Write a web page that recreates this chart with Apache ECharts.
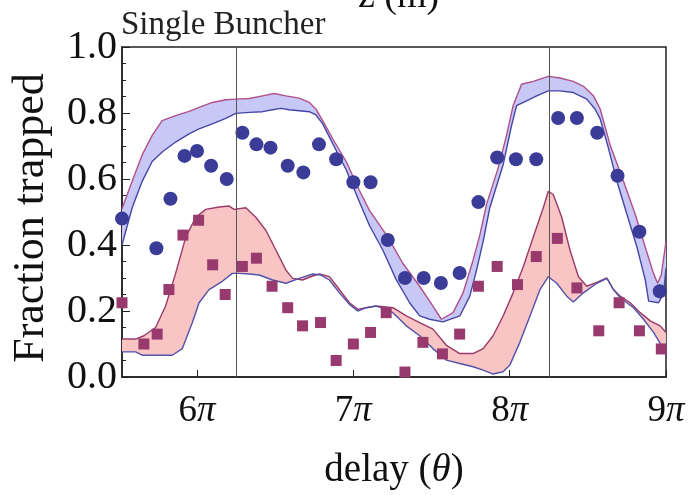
<!DOCTYPE html>
<html><head><meta charset="utf-8">
<script src="https://cdn.jsdelivr.net/npm/echarts@6/dist/echarts.min.js"></script>
<style>html,body{margin:0;padding:0;background:#fff}#c{width:690px;height:495px}</style>
</head><body><div id="c"></div>
<script>
// x in units of pi
const xTicks = [6, 7, 8, 9];
const refLines = [6.25, 8.25];

// measured points: Fraction trapped (circles)
const circles = [
  [5.52,0.48],[5.74,0.39],[5.83,0.54],[5.92,0.67],[6.00,0.685],[6.09,0.64],[6.19,0.60],
  [6.29,0.74],[6.38,0.705],[6.47,0.695],[6.58,0.64],[6.68,0.62],[6.78,0.705],[6.89,0.66],
  [7.00,0.59],[7.11,0.59],[7.22,0.415],[7.33,0.30],[7.45,0.30],[7.56,0.285],[7.68,0.315],
  [7.80,0.53],[7.92,0.665],[8.04,0.66],[8.17,0.66],[8.31,0.785],[8.43,0.785],[8.56,0.74],
  [8.69,0.61],[8.83,0.44],[8.96,0.26]
];
// measured points (squares)
const squares = [
  [5.52,0.225],[5.66,0.10],[5.745,0.13],[5.82,0.265],[5.91,0.43],[6.01,0.475],[6.10,0.34],
  [6.18,0.25],[6.29,0.335],[6.38,0.36],[6.48,0.275],[6.58,0.21],[6.675,0.155],[6.79,0.165],
  [6.89,0.05],[7.00,0.10],[7.11,0.135],[7.21,0.195],[7.33,0.015],[7.445,0.105],[7.57,0.07],
  [7.68,0.13],[7.80,0.275],[7.92,0.335],[8.05,0.28],[8.17,0.365],[8.305,0.42],[8.43,0.27],
  [8.57,0.14],[8.70,0.225],[8.83,0.14],[8.97,0.085]
];

// simulation band 1 (blue)
const blueUpper = [
  [5.52,0.51],[5.585,0.593],[5.649,0.673],[5.713,0.732],[5.777,0.777],[5.863,0.792],[5.949,0.805],
  [6.013,0.817],[6.098,0.832],[6.184,0.84],[6.248,0.842],[6.334,0.844],[6.419,0.852],[6.494,0.859],
  [6.569,0.852],[6.654,0.845],[6.718,0.832],[6.761,0.812],[6.804,0.777],[6.868,0.722],[6.954,0.653],
  [7.039,0.565],[7.103,0.505],[7.221,0.424],[7.317,0.344],[7.424,0.275],[7.509,0.215],[7.563,0.175],
  [7.638,0.195],[7.702,0.255],[7.766,0.354],[7.809,0.43],[7.852,0.523],[7.926,0.633],[7.98,0.732],
  [8.022,0.822],[8.076,0.887],[8.151,0.896],[8.247,0.911],[8.322,0.906],[8.407,0.896],[8.472,0.881],
  [8.536,0.852],[8.579,0.812],[8.643,0.702],[8.728,0.593],[8.803,0.493],[8.867,0.394],[8.92,0.314],
  [8.946,0.284],[8.97,0.31],[9.0,0.41]
];
const blueLower = [
  [5.52,0.40],[5.585,0.513],[5.649,0.593],[5.713,0.653],[5.777,0.682],[5.863,0.712],[5.949,0.737],
  [6.013,0.752],[6.098,0.767],[6.184,0.784],[6.248,0.799],[6.334,0.802],[6.419,0.804],[6.483,0.81],
  [6.537,0.814],[6.59,0.81],[6.654,0.807],[6.718,0.804],[6.761,0.794],[6.804,0.767],[6.868,0.707],
  [6.954,0.628],[7.039,0.53],[7.103,0.459],[7.189,0.384],[7.274,0.295],[7.36,0.225],[7.424,0.185],
  [7.488,0.175],[7.573,0.167],[7.681,0.185],[7.745,0.245],[7.788,0.324],[7.83,0.41],[7.873,0.513],
  [7.958,0.643],[8.012,0.762],[8.044,0.822],[8.108,0.837],[8.173,0.852],[8.247,0.867],[8.322,0.867],
  [8.407,0.862],[8.493,0.842],[8.546,0.812],[8.579,0.782],[8.632,0.693],[8.686,0.593],[8.75,0.493],
  [8.814,0.394],[8.867,0.295],[8.889,0.23],[8.953,0.225],[8.985,0.255],[9.0,0.33]
];
// simulation band 2 (pink)
const pinkUpper = [
  [5.52,0.115],[5.607,0.115],[5.66,0.125],[5.735,0.15],[5.799,0.215],[5.863,0.314],[5.928,0.424],
  [5.992,0.484],[6.056,0.508],[6.141,0.515],[6.205,0.518],[6.237,0.508],[6.312,0.513],[6.376,0.484],
  [6.441,0.444],[6.505,0.384],[6.569,0.324],[6.611,0.299],[6.675,0.294],[6.74,0.306],[6.783,0.312],
  [6.847,0.304],[6.911,0.265],[6.975,0.225],[7.028,0.205],[7.082,0.21],[7.146,0.215],[7.21,0.212],
  [7.253,0.21],[7.339,0.185],[7.424,0.165],[7.509,0.145],[7.595,0.096],[7.681,0.071],[7.766,0.071],
  [7.83,0.086],[7.894,0.125],[7.958,0.185],[8.022,0.255],[8.087,0.334],[8.151,0.424],[8.215,0.513],
  [8.247,0.563],[8.279,0.553],[8.333,0.484],[8.386,0.384],[8.44,0.304],[8.493,0.275],[8.557,0.287],
  [8.622,0.30],[8.664,0.265],[8.707,0.245],[8.771,0.225],[8.835,0.195],[8.899,0.17],[8.963,0.155],
  [9.0,0.135]
];
const pinkLower = [
  [5.52,0.076],[5.607,0.076],[5.649,0.066],[5.735,0.066],[5.842,0.066],[5.906,0.086],[5.97,0.165],
  [6.013,0.225],[6.077,0.265],[6.162,0.29],[6.226,0.314],[6.269,0.314],[6.334,0.312],[6.398,0.309],
  [6.483,0.294],[6.569,0.284],[6.654,0.299],[6.74,0.312],[6.793,0.309],[6.847,0.294],[6.911,0.255],
  [6.975,0.22],[7.028,0.20],[7.082,0.21],[7.146,0.215],[7.21,0.205],[7.253,0.195],[7.339,0.155],
  [7.424,0.125],[7.509,0.086],[7.595,0.051],[7.681,0.041],[7.766,0.031],[7.83,0.021],[7.894,0.009],
  [7.958,0.016],[8.001,0.036],[8.065,0.105],[8.13,0.185],[8.194,0.265],[8.247,0.304],[8.301,0.284],
  [8.365,0.245],[8.407,0.227],[8.472,0.255],[8.557,0.284],[8.622,0.299],[8.664,0.265],[8.707,0.24],
  [8.792,0.21],[8.856,0.175],[8.92,0.135],[8.984,0.086],[9.0,0.076]
];

const FONT = 'Liberation Serif';
const chart = echarts.init(document.getElementById('c'), null, {renderer: 'canvas'});

function band(upper, lower, fill) {
  return {
    type: 'custom', coordinateSystem: 'cartesian2d', silent: true, z: 1, clip: true,
    data: [[7, 0.5]],
    renderItem: function (params, api) {
      const pts = upper.map(p => api.coord(p))
        .concat(lower.slice().reverse().map(p => api.coord(p)));
      return {type: 'polygon', shape: {points: pts}, style: {fill: fill, stroke: null}};
    }
  };
}
function curve(data, color) {
  return {type: 'line', data: data, showSymbol: false, silent: true, z: 2, clip: true,
    lineStyle: {color: color, width: 1.4}};
}

chart.setOption({
  animation: false,
  grid: {left: 122, right: 24, top: 47, bottom: 113, show: true, borderColor: '#222', borderWidth: 1.5, backgroundColor: 'transparent'},
  xAxis: {
    type: 'value', min: 5.52, max: 9,
    axisLine: {show: true, onZero: false, lineStyle: {color: '#222', width: 1.5}},
    axisTick: {show: true, inside: true, length: 7, customValues: xTicks, lineStyle: {color: '#222'}},
    axisLabel: {customValues: xTicks, margin: 16,
      formatter: v => v + '{p|π}',
      fontFamily: FONT, fontSize: 37, color: '#111',
      rich: {p: {fontFamily: FONT, fontSize: 37, fontStyle: 'italic', color: '#111'}}},
    splitLine: {show: false},
    name: 'delay ({i|θ})', nameLocation: 'middle', nameGap: 74,
    nameTextStyle: {fontFamily: FONT, fontSize: 39, color: '#111',
      rich: {i: {fontFamily: FONT, fontSize: 39, fontStyle: 'italic', color: '#111'}}}
  },
  yAxis: {
    type: 'value', min: 0, max: 1, interval: 0.2,
    axisLine: {show: true, onZero: false, lineStyle: {color: '#222', width: 1.5}},
    axisTick: {show: true, inside: true, length: 8, lineStyle: {color: '#222'}},
    minorTick: {show: true, splitNumber: 4, length: 4, lineStyle: {color: '#222'}},
    axisLabel: {formatter: v => v.toFixed(1), fontFamily: FONT, fontSize: 40, color: '#111', margin: 5},
    splitLine: {show: false}
  },
  graphic: [
    {type: 'text', x: 121, y: 25, style: {text: 'Single Buncher', fontFamily: FONT, fontSize: 33, fill: '#222', align: 'left', verticalAlign: 'middle'}},
    {type: 'text', x: 358, y: -3, style: {text: 'z (m)', fontFamily: FONT, fontSize: 38, fill: '#111', align: 'left', verticalAlign: 'middle'}},
    {type: 'text', x: 31, y: 218, rotation: Math.PI / 2, style: {text: 'Fraction trapped', fontFamily: FONT, fontSize: 44, fill: '#111', align: 'center', verticalAlign: 'middle'}}
  ],
  series: [
    band(blueUpper, blueLower, '#c8c8f6'),
    band(pinkUpper, pinkLower, '#f8c4c4'),
    curve(blueUpper, '#b0508a'),
    curve(blueLower, '#4646a6'),
    curve(pinkUpper, '#9a3a6a'),
    curve(pinkLower, '#5252aa'),
    {type: 'line', data: [], z: 3, silent: true,
      markLine: {symbol: 'none', silent: true, animation: false, label: {show: false},
        lineStyle: {color: '#555', width: 1, type: 'solid'},
        data: refLines.map(v => ({xAxis: v}))}},
    {type: 'scatter', data: circles, symbol: 'circle', symbolSize: 14, z: 4, silent: true,
      itemStyle: {color: '#3b3b98', opacity: 1}},
    {type: 'scatter', data: squares, symbol: 'rect', symbolSize: 11, z: 4, silent: true,
      itemStyle: {color: '#993a6e', opacity: 1}}
  ]
});
</script></body></html>
